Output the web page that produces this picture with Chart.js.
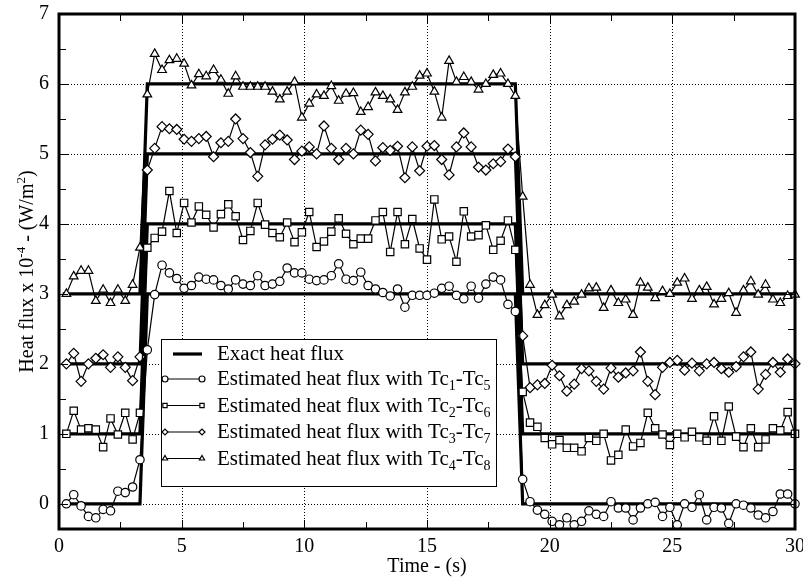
<!DOCTYPE html>
<html>
<head>
<meta charset="utf-8">
<script src="https://cdn.jsdelivr.net/npm/chart.js@4.4.0/dist/chart.umd.min.js"></script>
<style>
  html, body { margin: 0; padding: 0; background: #fff; }
  #wrap { width: 803px; height: 579px; }
</style>
</head>
<body>
<div id="wrap"><canvas id="c" width="803" height="579"></canvas></div>
<script>
const FONT = '"Liberation Serif", "Times New Roman", serif';

// Sampling instants of the inverse estimates (s): 0.3 s step up to 30 s
const DT = 0.3;
const TIME = Array.from({ length: 100 }, (_, k) => +(DT * (k + 1)).toFixed(1));

// Estimated heat flux (x 1e-4 W/m^2) for each thermocouple pair
const Q_TC1_TC5 = [
  0.00, 0.13, -0.03, -0.18, -0.20, -0.08, -0.10, 0.18, 0.16, 0.24,
  0.63, 2.20, 2.99, 3.41, 3.30, 3.22, 3.08, 3.12, 3.24, 3.21,
  3.20, 3.12, 3.07, 3.20, 3.14, 3.12, 3.26, 3.12, 3.14, 3.18,
  3.37, 3.30, 3.30, 3.21, 3.19, 3.20, 3.26, 3.43, 3.21, 3.19,
  3.31, 3.12, 3.07, 3.02, 2.97, 3.07, 2.81, 2.98, 2.98, 2.98,
  3.01, 3.08, 3.11, 2.98, 2.93, 3.11, 2.94, 3.14, 3.24, 3.20,
  2.85, 2.75, 0.35, 0.03, -0.09, -0.15, -0.25, -0.30, -0.20, -0.30,
  -0.25, -0.10, -0.15, -0.18, 0.03, -0.06, -0.06, -0.23, -0.06, 0.00,
  0.02, -0.18, -0.05, -0.30, 0.00, -0.05, 0.13, -0.23, -0.05, -0.06,
  -0.28, 0.00, -0.02, -0.06, -0.16, -0.20, -0.11, 0.14, 0.14, 0.00
];
const Q_TC2_TC6 = [
  1.00, 1.33, 1.06, 1.08, 1.06, 0.81, 1.22, 0.99, 1.30, 0.92,
  1.30, 3.66, 3.80, 3.89, 4.47, 3.87, 4.30, 4.02, 4.25, 4.13,
  3.95, 4.14, 4.28, 4.11, 3.77, 3.90, 4.30, 3.99, 3.87, 3.81,
  4.02, 3.74, 3.88, 4.17, 3.67, 3.75, 3.89, 4.08, 3.86, 3.71,
  3.79, 3.79, 4.05, 4.17, 3.60, 4.17, 3.71, 4.07, 3.65, 3.49,
  4.35, 3.78, 3.82, 3.46, 4.18, 3.82, 3.84, 3.98, 3.63, 3.76,
  4.05, 3.63, 1.60, 1.16, 1.10, 0.94, 0.85, 0.91, 0.80, 0.80,
  0.75, 0.94, 0.90, 1.00, 0.62, 0.70, 1.06, 0.82, 0.87, 1.30,
  1.08, 0.99, 0.84, 1.00, 0.95, 1.03, 0.95, 0.90, 1.25, 0.90,
  1.39, 0.96, 0.81, 1.08, 0.81, 0.92, 1.08, 1.05, 1.31, 1.00
];
const Q_TC3_TC7 = [
  2.00, 2.15, 1.75, 2.00, 2.08, 2.13, 1.95, 2.10, 1.95, 1.76,
  2.10, 4.77, 5.08, 5.39, 5.36, 5.35, 5.21, 5.18, 5.22, 5.25,
  4.96, 5.16, 5.18, 5.50, 5.22, 5.02, 4.68, 5.13, 5.21, 5.27,
  5.20, 4.92, 5.04, 5.10, 5.00, 5.40, 5.08, 4.92, 5.08, 5.00,
  5.34, 5.28, 4.90, 5.09, 5.05, 5.11, 4.66, 5.10, 4.76, 5.11,
  5.12, 4.92, 4.70, 5.10, 5.30, 5.10, 4.81, 4.77, 4.86, 4.89,
  5.07, 4.96, 2.40, 1.66, 1.70, 1.72, 1.98, 1.83, 1.61, 1.71,
  1.93, 1.90, 1.75, 1.64, 1.94, 1.81, 1.87, 1.90, 2.17, 1.75,
  1.56, 1.95, 2.02, 2.05, 1.91, 2.01, 1.90, 2.00, 2.02, 1.93,
  1.88, 1.96, 2.10, 2.17, 1.64, 1.85, 2.02, 1.88, 2.07, 2.00
];
const Q_TC4_TC8 = [
  3.00, 3.25, 3.33, 3.33, 2.90, 3.06, 2.87, 3.06, 2.90, 3.13,
  3.66, 5.85, 6.43, 6.20, 6.34, 6.36, 6.29, 5.98, 6.14, 6.11,
  6.20, 6.06, 5.86, 6.11, 5.96, 5.96, 5.96, 5.96, 5.89, 5.78,
  5.89, 6.03, 5.52, 5.72, 5.85, 5.83, 5.97, 5.76, 5.86, 5.87,
  5.60, 5.67, 5.88, 5.83, 5.78, 5.63, 5.88, 5.96, 6.12, 6.15,
  5.89, 5.52, 6.33, 6.03, 6.10, 6.03, 5.92, 6.00, 6.13, 6.15,
  6.00, 5.83, 4.39, 3.13, 2.70, 2.84, 2.99, 2.68, 2.84, 2.89,
  2.99, 3.08, 3.09, 2.80, 3.05, 2.87, 2.92, 2.70, 3.16, 3.09,
  2.94, 3.04, 3.00, 3.16, 3.22, 2.93, 3.05, 3.10, 2.85, 2.93,
  3.01, 2.73, 3.05, 3.18, 2.99, 3.13, 2.92, 2.87, 2.97, 2.99
];

// Exact (imposed) heat flux steps
const EXACT_T = [0.15, 3.3, 3.6, 18.6, 18.9, 30];
const EXACT_1 = [0, 0, 3, 3, 0, 0];
const EXACT_2 = [1, 1, 4, 4, 1, 1];
const EXACT_3 = [2, 2, 5, 5, 2, 2];
const EXACT_4 = [3, 3, 6, 6, 3, 3];

// Axes
const X_TICKS = [0, 5, 10, 15, 20, 25, 30];
const X_MINOR = [2.5, 7.5, 12.5, 17.5, 22.5, 27.5];
const Y_TICKS = [0, 1, 2, 3, 4, 5, 6, 7];
const Y_MINOR = [0.5, 1.5, 2.5, 3.5, 4.5, 5.5, 6.5];
const X_TITLE = 'Time - (s)';

// Legend entries: [marker, text pieces as [text, subscript?]]
const LEGEND = [
  ['line', [['Exact heat flux', false]]],
  ['circle', [['Estimated heat flux with Tc', false], ['1', true], ['-Tc', false], ['5', true]]],
  ['rect', [['Estimated heat flux with Tc', false], ['2', true], ['-Tc', false], ['6', true]]],
  ['rectRot', [['Estimated heat flux with Tc', false], ['3', true], ['-Tc', false], ['7', true]]],
  ['triangle', [['Estimated heat flux with Tc', false], ['4', true], ['-Tc', false], ['8', true]]]
];

const MARK_R = { circle: 4.2, rect: 5.2, rectRot: 5.0, triangle: 5.0 };
const TXT = 20;
const LEG_TXT = 21;

function estimated(label, values, style) {
  return {
    label,
    data: TIME.map((t, k) => ({ x: t, y: values[k] })),
    borderColor: '#000',
    borderWidth: 1.2,
    pointStyle: style,
    pointRadius: MARK_R[style],
    pointBackgroundColor: '#fff',
    pointBorderColor: '#000',
    pointBorderWidth: 1.2,
    tension: 0,
    fill: false,
    clip: false
  };
}
function exact(values) {
  return {
    label: 'Exact heat flux',
    data: EXACT_T.map((t, k) => ({ x: t, y: values[k] })),
    borderColor: '#000',
    borderWidth: 3.2,
    pointRadius: 0,
    tension: 0,
    fill: false,
    clip: false
  };
}

function drawMarker(ctx, style, x, y, r) {
  Chart.helpers.drawPoint(ctx, { pointStyle: style, radius: r, borderWidth: 1, rotation: 0 }, x, y);
}

const decor = {
  id: 'decor',
  beforeDatasetsDraw(chart) {
    const { ctx, chartArea: a, scales: { x, y } } = chart;
    ctx.save();
    ctx.strokeStyle = '#000';
    ctx.lineWidth = 1;
    ctx.setLineDash([1, 2]);
    X_TICKS.forEach(v => {
      if (v <= x.min || v >= x.max) return;
      const px = Math.round(x.getPixelForValue(v)) + 0.5;
      ctx.beginPath(); ctx.moveTo(px, a.top); ctx.lineTo(px, a.bottom); ctx.stroke();
    });
    Y_TICKS.forEach(v => {
      if (v <= y.min || v >= y.max) return;
      const py = Math.round(y.getPixelForValue(v)) + 0.5;
      ctx.beginPath(); ctx.moveTo(a.left, py); ctx.lineTo(a.right, py); ctx.stroke();
    });
    ctx.restore();
  },
  afterDatasetsDraw(chart) {
    const { ctx, chartArea: a, scales: { x, y } } = chart;
    ctx.save();
    ctx.strokeStyle = '#000';
    ctx.fillStyle = '#000';
    ctx.setLineDash([]);

    // inward tick marks on all four sides
    ctx.lineWidth = 1;
    const seg = (x1, y1, x2, y2) => { ctx.beginPath(); ctx.moveTo(x1, y1); ctx.lineTo(x2, y2); ctx.stroke(); };
    X_MINOR.concat(X_TICKS).forEach(v => {
      if (v <= x.min || v >= x.max) return;
      const px = Math.round(x.getPixelForValue(v)) + 0.5;
      const len = X_MINOR.includes(v) ? 7 : 9;
      seg(px, a.bottom, px, a.bottom - len);
      seg(px, a.top, px, a.top + len);
    });
    Y_MINOR.concat(Y_TICKS).forEach(v => {
      if (v <= y.min || v >= y.max) return;
      const py = Math.round(y.getPixelForValue(v)) + 0.5;
      const len = Y_MINOR.includes(v) ? 7 : 9;
      seg(a.left, py, a.left + len, py);
      seg(a.right, py, a.right - len, py);
    });

    // heavy frame
    ctx.lineWidth = 3;
    ctx.strokeRect(a.left, a.top, a.right - a.left, a.bottom - a.top);

    // legend box
    const L = { x: 161.5, y: 339.5, w: 335, h: 147 };
    ctx.lineWidth = 1;
    ctx.fillStyle = '#fff';
    ctx.fillRect(L.x, L.y, L.w, L.h);
    ctx.strokeRect(L.x, L.y, L.w, L.h);
    ctx.fillStyle = '#000';
    const rowBase = [360, 385, 411.5, 438, 464.5];
    LEGEND.forEach(([mark, pieces], i) => {
      const by = rowBase[i];
      const ly = by - 6;
      if (mark === 'line') {
        ctx.lineWidth = 3.2;
        seg(173, ly, 202, ly);
      } else {
        ctx.lineWidth = 1.2;
        seg(165, ly, 202, ly);
        ctx.fillStyle = '#fff';
        ctx.strokeStyle = '#000';
        drawMarker(ctx, mark, 165, ly, 3.0);
        drawMarker(ctx, mark, 202, ly, 3.0);
        ctx.fillStyle = '#000';
      }
      let tx = 217;
      ctx.textBaseline = 'alphabetic';
      ctx.textAlign = 'left';
      pieces.forEach(([s, sub]) => {
        ctx.font = sub ? `14px ${FONT}` : `${LEG_TXT}px ${FONT}`;
        ctx.fillText(s, tx, sub ? by + 5 : by);
        tx += ctx.measureText(s).width;
      });
    });

    // axis titles
    ctx.font = `${TXT}px ${FONT}`;
    ctx.textAlign = 'center';
    ctx.textBaseline = 'middle';
    ctx.fillText(X_TITLE, (a.left + a.right) / 2, 567);

    const yTitle = [['Heat flux x 10', 0], ['-4', 1], [' - (W/m', 0], ['2', 1], [')', 0]];
    ctx.save();
    ctx.translate(26, (a.top + a.bottom) / 2);
    ctx.rotate(-Math.PI / 2);
    ctx.textAlign = 'left';
    ctx.textBaseline = 'alphabetic';
    let total = 0;
    yTitle.forEach(([s, sup]) => { ctx.font = sup ? `13px ${FONT}` : `${TXT}px ${FONT}`; total += ctx.measureText(s).width; });
    let cx = -total / 2;
    yTitle.forEach(([s, sup]) => {
      ctx.font = sup ? `13px ${FONT}` : `${TXT}px ${FONT}`;
      ctx.fillText(s, cx, sup ? -1 : 7);
      cx += ctx.measureText(s).width;
    });
    ctx.restore();
    ctx.restore();
  }
};

new Chart(document.getElementById('c'), {
  type: 'line',
  data: {
    datasets: [
      estimated('Estimated heat flux with Tc1-Tc5', Q_TC1_TC5, 'circle'),
      estimated('Estimated heat flux with Tc2-Tc6', Q_TC2_TC6, 'rect'),
      estimated('Estimated heat flux with Tc3-Tc7', Q_TC3_TC7, 'rectRot'),
      estimated('Estimated heat flux with Tc4-Tc8', Q_TC4_TC8, 'triangle'),
      exact(EXACT_1), exact(EXACT_2), exact(EXACT_3), exact(EXACT_4)
    ]
  },
  options: {
    responsive: false,
    animation: false,
    devicePixelRatio: 1,
    layout: { padding: { left: 0, right: 8, top: 14, bottom: 0 } },
    plugins: { legend: { display: false }, tooltip: { enabled: false }, title: { display: false } },
    scales: {
      x: {
        type: 'linear',
        min: 0, max: 30,
        afterBuildTicks: s => { s.ticks = X_TICKS.map(v => ({ value: v })); },
        afterFit: s => { s.height = 50; s.paddingLeft = 0; s.paddingRight = 0; },
        grid: { display: false, drawTicks: false },
        border: { display: false },
        ticks: { color: '#000', font: { family: FONT, size: TXT }, padding: 6, maxRotation: 0 }
      },
      y: {
        type: 'linear',
        min: -0.36, max: 7,
        afterBuildTicks: s => { s.ticks = Y_TICKS.map(v => ({ value: v })); },
        afterFit: s => { s.width = 59; s.paddingTop = 0; s.paddingBottom = 0; },
        grid: { display: false, drawTicks: false },
        border: { display: false },
        ticks: { color: '#000', font: { family: FONT, size: TXT }, padding: 10 }
      }
    }
  },
  plugins: [decor]
});
</script>
</body>
</html>
